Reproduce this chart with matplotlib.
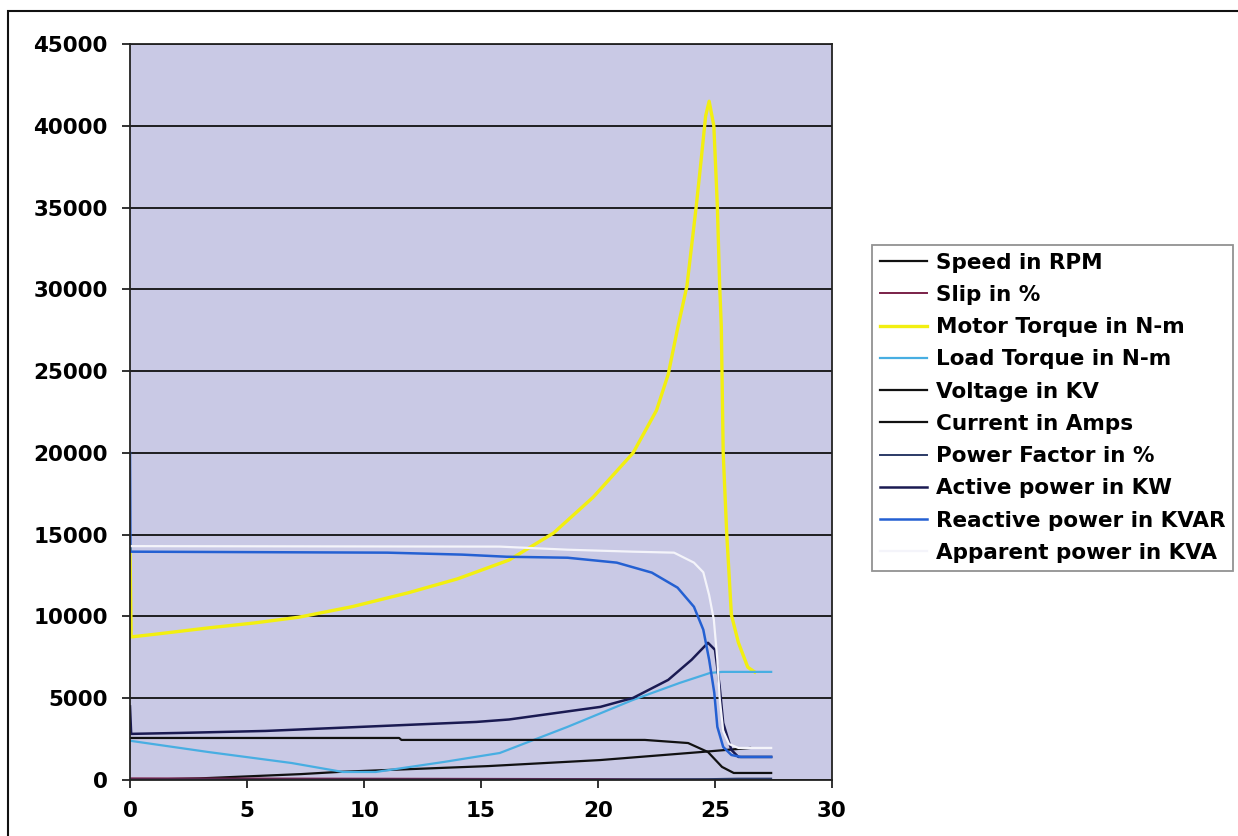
import matplotlib
matplotlib.use("Agg")
import matplotlib.pyplot as plt
from matplotlib.patches import Rectangle

# series (x = time in s)
speed_x = [0, 3, 7.3, 9, 15.3, 20.1, 24.4, 26.5]
speed_y = [0, 100, 360, 500, 850, 1220, 1710, 1960]

slip_x = [0, 10, 20, 24.7, 26, 27.4]
slip_y = [100, 82, 58, 22, 1.5, 1.5]

motor_x = [0, 0.05, 1, 3.35, 5.3, 7.2, 9.5, 11.9, 14, 16.2, 18.1, 19.8, 21.5,
           22.5, 23.0, 23.4, 23.8, 24.2, 24.4, 24.6, 24.75, 24.95, 25.1, 25.2,
           25.27, 25.35, 25.5, 25.7, 26.0, 26.4, 26.7]
motor_y = [14300, 8750, 8900, 9300, 9600, 9950, 10600, 11450, 12300, 13450,
           15100, 17300, 20000, 22600, 24800, 27600, 30200, 35100, 37800,
           40600, 41500, 40000, 35100, 30200, 27700, 20000, 15100, 10100,
           8400, 6900, 6600]

load_x = [0, 3.35, 6.9, 9.1, 10.5, 13.4, 15.8, 18.7, 21.5, 23.5, 24.8, 25.3, 27.4]
load_y = [2400, 1710, 1040, 490, 490, 1100, 1650, 3250, 4900, 5940, 6550, 6610, 6610]

volt_x = [0, 27.4]
volt_y = [6.6, 6.6]

current_x = [0, 11.5, 11.6, 22, 23.85, 24.7, 25.3, 25.8, 27.4]
current_y = [2570, 2570, 2450, 2450, 2260, 1710, 800, 430, 430]

pf_x = [0, 10, 20, 24.7, 26, 27.4]
pf_y = [18, 20, 28, 55, 85, 85]

active_x = [0, 0.05, 2.2, 5.8, 9.9, 14.8, 16.2, 20.1, 21.5, 23.0, 24.0, 24.7,
            25.0, 25.2, 25.35, 25.7, 26.0, 27.4]
active_y = [4500, 2820, 2880, 3000, 3250, 3550, 3700, 4470, 5020, 6120, 7350,
            8390, 7960, 5700, 3490, 1840, 1410, 1410]

reactive_x = [0, 0.02, 11, 14.2, 16.1, 18.7, 20.8, 22.3, 23.4, 24.1, 24.5,
              24.75, 24.97, 25.1, 25.35, 25.7, 26.1, 27.4]
reactive_y = [20000, 13960, 13900, 13780, 13650, 13590, 13290, 12680, 11760,
              10590, 9190, 7350, 5330, 3250, 2020, 1530, 1410, 1410]

apparent_x = [0, 15.8, 18.7, 21.5, 23.25, 24.1, 24.5, 24.75, 24.95, 25.1,
              25.2, 25.35, 25.6, 26.0, 27.4]
apparent_y = [14300, 14270, 14080, 13960, 13900, 13290, 12700, 11300, 9800,
              7350, 5000, 3000, 2200, 1960, 1960]

labels = ["Speed in RPM", "Slip in %", "Motor Torque in N-m", "Load Torque in N-m",
          "Voltage in KV", "Current in Amps", "Power Factor in %",
          "Active power in KW", "Reactive power in KVAR", "Apparent power in KVA"]

plt.rcParams["font.family"] = ["DejaVu Sans"]
plt.rcParams["font.weight"] = "bold"

fig = plt.figure(figsize=(12.38, 8.36), dpi=100)
ax = fig.add_axes([130 / 1238, 1 - 780 / 836, 702 / 1238, 736 / 836])
ax.set_facecolor("#c9c9e5")

series = [
    (speed_x, speed_y, "#111111", 1.6),
    (slip_x, slip_y, "#7a2048", 1.4),
    (motor_x, motor_y, "#f2ef10", 2.4),
    (load_x, load_y, "#48aee2", 1.6),
    (volt_x, volt_y, "#111111", 1.6),
    (current_x, current_y, "#111111", 1.6),
    (pf_x, pf_y, "#2b3a66", 1.4),
    (active_x, active_y, "#1a1a52", 1.8),
    (reactive_x, reactive_y, "#2460d2", 1.8),
    (apparent_x, apparent_y, "#f4f4fa", 1.6),
]
for (xs, ys, c, lw), lab in zip(series, labels):
    ax.plot(xs, ys, color=c, lw=lw, label=lab)

ax.set_xlim(0, 30)
ax.set_ylim(0, 45000)
ax.set_xticks(range(0, 31, 5))
ax.set_yticks(range(0, 45001, 5000))
ax.yaxis.grid(True, color="#111111", lw=1.3)
ax.set_axisbelow(True)
for s in ax.spines.values():
    s.set_color("#222222")
    s.set_linewidth(1.3)
ax.tick_params(axis="both", direction="out", length=6, width=1.3,
               labelsize=15.5, color="#222222")
ax.tick_params(axis="y", pad=10)
ax.tick_params(axis="x", pad=9)

leg = fig.legend(loc="upper left", bbox_to_anchor=(872 / 1238, 1 - 245 / 836),
                 frameon=True, fancybox=False, edgecolor="#777777",
                 fontsize=15.5, handlelength=2.2, handletextpad=0.4,
                 labelspacing=0.57, borderpad=0.35, borderaxespad=0)
leg.get_frame().set_linewidth(1.3)

# outer chart border (right and bottom run off the picture)
fig.patches.append(Rectangle((8 / 1238, -0.02), 1.05, 1 - 11 / 836 + 0.02,
                             transform=fig.transFigure, fill=False,
                             edgecolor="#111111", lw=1.5))

fig.savefig("out.png", dpi=100)
